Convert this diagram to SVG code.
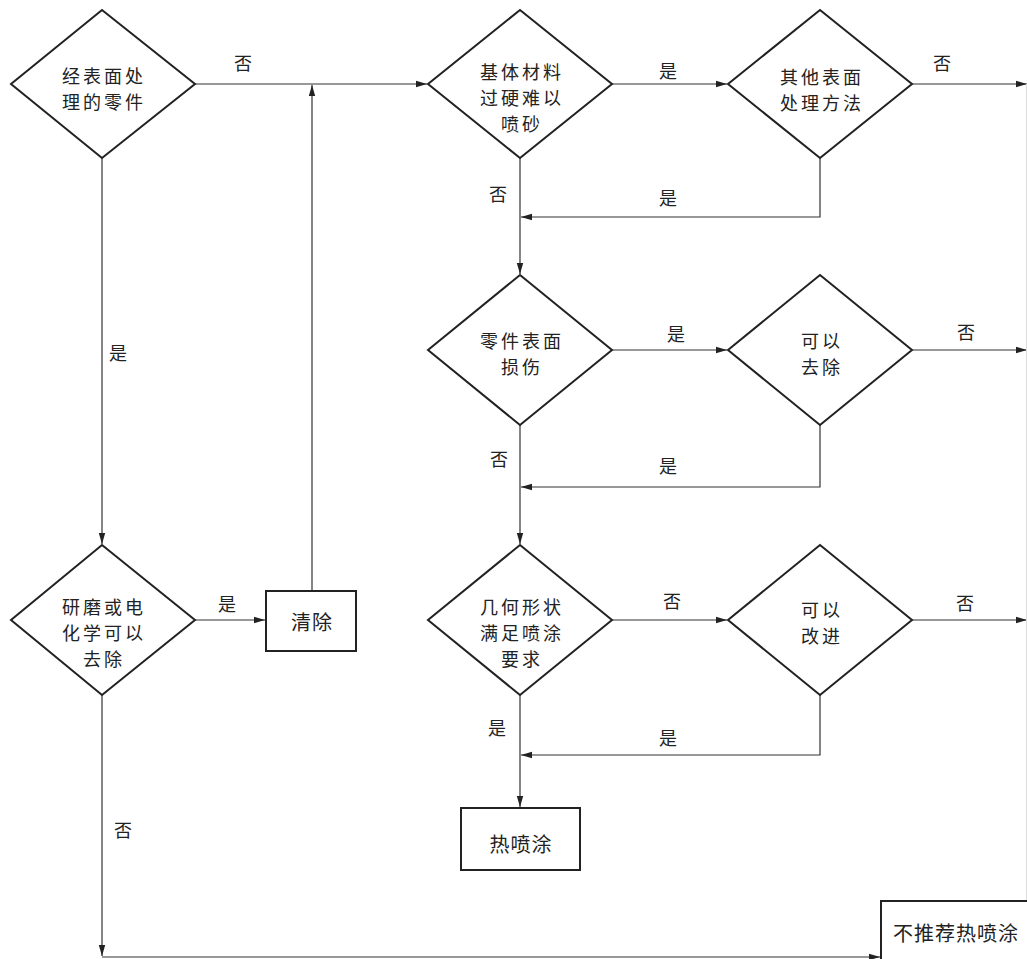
<svg xmlns="http://www.w3.org/2000/svg" width="1027" height="959" viewBox="0 0 1027 959">
<style>
.shape{fill:#fff;stroke:#222;stroke-width:2}
.conn{fill:none;stroke:#333;stroke-width:1.2}
.t{font-family:"Noto Sans CJK SC","Noto Sans CJK TC",sans-serif;font-size:20px;letter-spacing:1px;fill:#222;text-anchor:middle;dominant-baseline:central}
.m{font-family:"Noto Sans CJK SC","Noto Sans CJK TC",sans-serif;font-size:18px;letter-spacing:3px;fill:#222;text-anchor:middle;dominant-baseline:central}
.lbl{font-family:"Noto Sans CJK SC","Noto Sans CJK TC",sans-serif;font-size:18px;fill:#222;text-anchor:middle;dominant-baseline:central}
</style>
<defs>
<marker id="ah" markerUnits="userSpaceOnUse" markerWidth="12" markerHeight="8" refX="11" refY="4" orient="auto">
<path d="M0,0.8 L11,4 L0,7.2 z" fill="#222"/>
</marker>
</defs>
<rect width="1027" height="959" fill="#fff"/>
<g id="connectors">
<line class="conn" x1="195" y1="84" x2="427" y2="84" marker-end="url(#ah)"/>
<line class="conn" x1="312" y1="591" x2="312" y2="85" marker-end="url(#ah)"/>
<line class="conn" x1="612" y1="84" x2="727" y2="84" marker-end="url(#ah)"/>
<line class="conn" x1="912" y1="84" x2="1027" y2="84" marker-end="url(#ah)"/>
<polyline class="conn" points="820,158 820,217 521,217" marker-end="url(#ah)"/>
<line class="conn" x1="520" y1="158" x2="520" y2="274" marker-end="url(#ah)"/>
<line class="conn" x1="612" y1="350" x2="727" y2="350" marker-end="url(#ah)"/>
<line class="conn" x1="912" y1="350" x2="1027" y2="350" marker-end="url(#ah)"/>
<polyline class="conn" points="820,425 820,487 521,487" marker-end="url(#ah)"/>
<line class="conn" x1="520" y1="425" x2="520" y2="544" marker-end="url(#ah)"/>
<line class="conn" x1="612" y1="620" x2="727" y2="620" marker-end="url(#ah)"/>
<line class="conn" x1="912" y1="620" x2="1027" y2="620" marker-end="url(#ah)"/>
<polyline class="conn" points="820,695 820,755 521,755" marker-end="url(#ah)"/>
<line class="conn" x1="520" y1="695" x2="520" y2="807" marker-end="url(#ah)"/>
<line x1="1026.5" y1="84" x2="1026.5" y2="901" stroke="#ddd" stroke-width="1"/>
<line class="conn" x1="102" y1="158" x2="102" y2="544" marker-end="url(#ah)"/>
<line class="conn" x1="195" y1="620" x2="265" y2="620" marker-end="url(#ah)"/>
<line class="conn" x1="102" y1="695" x2="102" y2="956" marker-end="url(#ah)"/>
<line class="conn" x1="102" y1="957" x2="880" y2="957" marker-end="url(#ah)"/>
<text class="lbl" x="243" y="62">否</text>
<text class="lbl" x="668" y="70">是</text>
<text class="lbl" x="942" y="62">否</text>
<text class="lbl" x="668" y="197">是</text>
<text class="lbl" x="498" y="193">否</text>
<text class="lbl" x="676" y="333">是</text>
<text class="lbl" x="966" y="331">否</text>
<text class="lbl" x="668" y="465">是</text>
<text class="lbl" x="499" y="458">否</text>
<text class="lbl" x="672" y="600">否</text>
<text class="lbl" x="965" y="602">否</text>
<text class="lbl" x="668" y="737">是</text>
<text class="lbl" x="497" y="727">是</text>
<text class="lbl" x="118" y="352">是</text>
<text class="lbl" x="227" y="603">是</text>
<text class="lbl" x="123" y="829">否</text>
</g>
<g id="d1">
<polygon class="shape" points="102,10 195,84 102,158 11,84"/>
<text class="m" x="104" y="75"><tspan x="104" y="75">经表面处</tspan><tspan x="104" y="101">理的零件</tspan></text>
</g>
<g id="d2">
<polygon class="shape" points="520,10 612,84 520,158 428,84"/>
<text class="m" x="522" y="71"><tspan x="522" y="71">基体材料</tspan><tspan x="522" y="97">过硬难以</tspan><tspan x="522" y="123">喷砂</tspan></text>
</g>
<g id="d3">
<polygon class="shape" points="820,10 912,84 820,158 728,84"/>
<text class="m" x="822" y="76"><tspan x="822" y="76">其他表面</tspan><tspan x="822" y="102">处理方法</tspan></text>
</g>
<g id="d4">
<polygon class="shape" points="520,275 612,350 520,425 428,350"/>
<text class="m" x="522" y="340"><tspan x="522" y="340">零件表面</tspan><tspan x="522" y="366">损伤</tspan></text>
</g>
<g id="d5">
<polygon class="shape" points="820,275 912,350 820,425 728,350"/>
<text class="m" x="822" y="340"><tspan x="822" y="340">可以</tspan><tspan x="822" y="366">去除</tspan></text>
</g>
<g id="d6">
<polygon class="shape" points="520,545 612,620 520,695 428,620"/>
<text class="m" x="522" y="606"><tspan x="522" y="606">几何形状</tspan><tspan x="522" y="632">满足喷涂</tspan><tspan x="522" y="658">要求</tspan></text>
</g>
<g id="d7">
<polygon class="shape" points="820,545 912,620 820,695 728,620"/>
<text class="m" x="822" y="609"><tspan x="822" y="609">可以</tspan><tspan x="822" y="635">改进</tspan></text>
</g>
<g id="d8">
<polygon class="shape" points="102,545 195,620 102,695 11,620"/>
<text class="m" x="104" y="606"><tspan x="104" y="606">研磨或电</tspan><tspan x="104" y="632">化学可以</tspan><tspan x="104" y="658">去除</tspan></text>
</g>
<g id="b_clean">
<rect class="shape" x="266" y="591" width="90" height="60"/>
<text class="t" x="312" y="621">清除</text>
</g>
<g id="b_spray">
<rect class="shape" x="461" y="808" width="119" height="62"/>
<text class="t" x="521" y="843">热喷涂</text>
</g>
<g id="b_no">
<rect class="shape" x="881" y="901" width="160" height="70"/>
<text class="t" x="956" y="932">不推荐热喷涂</text>
</g>
</svg>
